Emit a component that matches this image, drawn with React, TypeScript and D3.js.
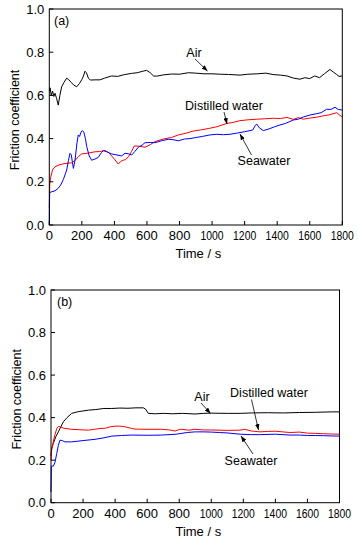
import React from "react";
import * as d3 from "d3";

type P = [number, number];

const xTicks = [0, 200, 400, 600, 800, 1000, 1200, 1400, 1600, 1800];
const yTicks = [0, 0.2, 0.4, 0.6, 0.8, 1.0];

const airA: P[] = [[0,0.62],[5,0.635],[12,0.6],[20,0.62],[28,0.595],[35,0.61],[45,0.585],[55,0.555],[65,0.6],[76,0.64],[90,0.66],[107,0.68],[120,0.672],[135,0.66],[150,0.648],[168,0.64],[185,0.655],[199,0.672],[210,0.69],[219,0.712],[228,0.705],[240,0.68],[252,0.671],[280,0.672],[311,0.672],[340,0.68],[383,0.69],[420,0.688],[460,0.696],[506,0.702],[540,0.705],[575,0.712],[598,0.716],[620,0.705],[640,0.69],[660,0.689],[700,0.695],[752,0.699],[800,0.698],[854,0.705],[900,0.703],[950,0.7],[1000,0.7],[1050,0.698],[1100,0.697],[1171,0.694],[1220,0.698],[1280,0.7],[1330,0.703],[1380,0.696],[1420,0.694],[1460,0.69],[1500,0.68],[1540,0.675],[1570,0.682],[1600,0.678],[1630,0.69],[1660,0.682],[1690,0.7],[1724,0.72],[1745,0.708],[1765,0.697],[1780,0.688],[1800,0.69]];

const waterA: P[] = [[0,0.08],[3,0.19],[8,0.22],[20,0.255],[35,0.27],[60,0.278],[90,0.284],[137,0.288],[160,0.3],[180,0.318],[199,0.329],[240,0.333],[281,0.339],[310,0.34],[342,0.345],[365,0.335],[383,0.32],[400,0.305],[424,0.282],[440,0.295],[455,0.3],[470,0.303],[486,0.316],[505,0.34],[522,0.366],[550,0.365],[588,0.36],[620,0.372],[649,0.386],[700,0.398],[750,0.405],[793,0.417],[840,0.425],[885,0.435],[930,0.44],[980,0.447],[1030,0.455],[1090,0.47],[1130,0.475],[1171,0.483],[1220,0.487],[1280,0.49],[1330,0.492],[1376,0.494],[1420,0.493],[1460,0.498],[1499,0.489],[1530,0.497],[1560,0.49],[1600,0.495],[1643,0.499],[1680,0.505],[1720,0.51],[1766,0.52],[1785,0.508],[1800,0.5]];

const seaA: P[] = [[0,0.0],[2,0.15],[15,0.154],[35,0.158],[55,0.17],[70,0.185],[86,0.21],[100,0.24],[107,0.255],[118,0.3],[127,0.332],[135,0.325],[142,0.29],[148,0.262],[158,0.3],[170,0.38],[178,0.417],[186,0.41],[195,0.43],[203,0.437],[212,0.43],[222,0.4],[230,0.363],[245,0.32],[260,0.3],[280,0.305],[301,0.313],[320,0.335],[332,0.344],[350,0.34],[383,0.329],[410,0.325],[444,0.32],[465,0.332],[485,0.33],[506,0.324],[525,0.34],[547,0.36],[570,0.37],[588,0.381],[620,0.382],[649,0.381],[690,0.39],[731,0.397],[760,0.395],[793,0.39],[830,0.398],[864,0.4],[900,0.405],[940,0.41],[987,0.417],[1030,0.42],[1070,0.418],[1110,0.42],[1150,0.425],[1200,0.432],[1233,0.437],[1250,0.44],[1265,0.46],[1274,0.468],[1290,0.45],[1315,0.437],[1350,0.445],[1385,0.455],[1417,0.463],[1450,0.47],[1499,0.486],[1530,0.49],[1560,0.5],[1601,0.509],[1640,0.515],[1670,0.52],[1704,0.536],[1730,0.535],[1755,0.545],[1775,0.535],[1800,0.532]];

const airB: P[] = [[0,0.22],[4,0.255],[15,0.28],[30,0.31],[46,0.333],[60,0.355],[77,0.38],[100,0.4],[129,0.42],[170,0.428],[233,0.435],[280,0.438],[330,0.443],[379,0.443],[430,0.445],[480,0.444],[530,0.446],[576,0.446],[590,0.44],[607,0.42],[650,0.418],[700,0.42],[760,0.418],[820,0.42],[899,0.417],[950,0.42],[1000,0.421],[1100,0.42],[1180,0.42],[1250,0.422],[1350,0.423],[1450,0.422],[1550,0.424],[1650,0.425],[1750,0.427],[1800,0.427]];

const waterB: P[] = [[0,0.2],[4,0.247],[15,0.29],[25,0.32],[36,0.349],[46,0.358],[56,0.357],[80,0.35],[129,0.345],[180,0.343],[233,0.341],[270,0.345],[306,0.349],[340,0.35],[370,0.357],[399,0.36],[430,0.36],[462,0.357],[500,0.35],[524,0.346],[600,0.345],[691,0.345],[740,0.342],[774,0.337],[800,0.344],[816,0.345],[860,0.341],[899,0.345],[950,0.342],[1000,0.342],[1100,0.34],[1180,0.341],[1210,0.345],[1250,0.337],[1304,0.333],[1350,0.335],[1400,0.336],[1491,0.33],[1550,0.332],[1600,0.327],[1650,0.326],[1700,0.324],[1750,0.323],[1800,0.322]];

const seaB: P[] = [[0,0.05],[2,0.17],[4,0.172],[15,0.172],[25,0.19],[36,0.232],[46,0.27],[56,0.294],[70,0.292],[87,0.286],[129,0.286],[200,0.292],[275,0.298],[330,0.305],[379,0.313],[440,0.316],[504,0.318],[600,0.317],[691,0.318],[780,0.322],[850,0.33],[899,0.333],[950,0.333],[1000,0.332],[1050,0.33],[1100,0.328],[1180,0.322],[1250,0.32],[1300,0.32],[1400,0.322],[1491,0.318],[1550,0.318],[1600,0.316],[1650,0.316],[1700,0.315],[1800,0.313]];

const FONT = "Arial, 'Liberation Sans', Helvetica, sans-serif";

interface Label { text: string; x: number; y: number; ax1: number; ay1: number; ax2: number; ay2: number; }

interface PanelProps {
  x0: number; x1: number; yTop: number; yBot: number;
  tag: string; tagX: number; tagY: number;
  series: { data: P[]; color: string }[];
  labels: Label[];
  titleX: number;
}

function Panel(p: PanelProps) {
  const x = d3.scaleLinear().domain([0, 1800]).range([p.x0, p.x1]);
  const y = d3.scaleLinear().domain([0, 1]).range([p.yBot, p.yTop]);
  const line = d3.line<P>().x(d => x(d[0])).y(d => y(d[1]));
  const midY = (p.yTop + p.yBot) / 2;
  return (
    <g>
      {p.series.map((s, i) => (
        <path key={i} d={line(s.data) || ""} fill="none" stroke={s.color} strokeWidth={1} />
      ))}
      <rect x={p.x0} y={p.yTop} width={p.x1 - p.x0} height={p.yBot - p.yTop} fill="none" stroke="#000" strokeWidth={1} />
      {xTicks.map(t => (
        <g key={"x" + t}>
          <line x1={x(t)} x2={x(t)} y1={p.yBot} y2={p.yBot - 4} stroke="#000" strokeWidth={1} />
          <text transform={`translate(${x(t)},${p.yBot + 15}) scale(${String(t).length === 4 ? 0.8 : 1},1)`}
            textAnchor="middle" fontSize={13} fontFamily={FONT}>{t}</text>
        </g>
      ))}
      {yTicks.map(t => (
        <g key={"y" + t}>
          <line x1={p.x0} x2={p.x0 + 4} y1={y(t)} y2={y(t)} stroke="#000" strokeWidth={1} />
          <text x={p.x0 - 5} y={y(t) + 4.5} textAnchor="end" fontSize={13} fontFamily={FONT}>{t.toFixed(1)}</text>
        </g>
      ))}
      <text x={p.titleX} y={p.yBot + 33} textAnchor="middle" fontSize={13} fontFamily={FONT}>Time / s</text>
      <text transform={`translate(${p.x0 - 30.5},${midY + 3}) rotate(-90)`} textAnchor="middle" fontSize={12.5} fontFamily={FONT}>Friction coefficient</text>
      <text x={p.tagX} y={p.tagY} fontSize={12.5} fontFamily={FONT}>{p.tag}</text>
      {p.labels.map((l, i) => (
        <g key={"l" + i}>
          <text x={l.x} y={l.y} textAnchor="middle" fontSize={12.5} fontFamily={FONT}>{l.text}</text>
          <line x1={l.ax1} y1={l.ay1} x2={l.ax2} y2={l.ay2} stroke="#000" strokeWidth={0.8} markerEnd="url(#arr)" />
        </g>
      ))}
    </g>
  );
}

export default function App() {
  return (
    <svg width={358} height={542} style={{ position: "absolute", left: 0, top: 0, background: "#fff" }}>
      <defs>
        <marker id="arr" viewBox="0 0 8 6" refX={8} refY={3} markerWidth={6} markerHeight={4.5} markerUnits="userSpaceOnUse" orient="auto">
          <path d="M0,0 L8,3 L0,6 Z" fill="#000" />
        </marker>
      </defs>
      <Panel x0={49.3} x1={342.3} yTop={9} yBot={225} tag="(a)" tagX={54} tagY={25} titleX={198.3}
        series={[{ data: airA, color: "#000" }, { data: waterA, color: "#ff0000" }, { data: seaA, color: "#0000ff" }]}
        labels={[
          { text: "Air", x: 194, y: 57, ax1: 195, ay1: 59, ax2: 207.5, ay2: 71 },
          { text: "Distilled water", x: 224, y: 110, ax1: 224, ay1: 112, ax2: 227, ay2: 124 },
          { text: "Seawater", x: 264, y: 165, ax1: 251.5, ay1: 155, ax2: 240, ay2: 134 },
        ]} />
      <Panel x0={51} x1={339.5} yTop={290} yBot={502.7} tag="(b)" tagX={57} tagY={306} titleX={198.3}
        series={[{ data: airB, color: "#000" }, { data: waterB, color: "#ff0000" }, { data: seaB, color: "#0000ff" }]}
        labels={[
          { text: "Air", x: 202, y: 401, ax1: 201, ay1: 403, ax2: 210.5, ay2: 413.5 },
          { text: "Distilled water", x: 269, y: 397, ax1: 251.5, ay1: 399.5, ax2: 258.5, ay2: 430 },
          { text: "Seawater", x: 251, y: 465, ax1: 253, ay1: 454, ax2: 241, ay2: 436 },
        ]} />
    </svg>
  );
}
